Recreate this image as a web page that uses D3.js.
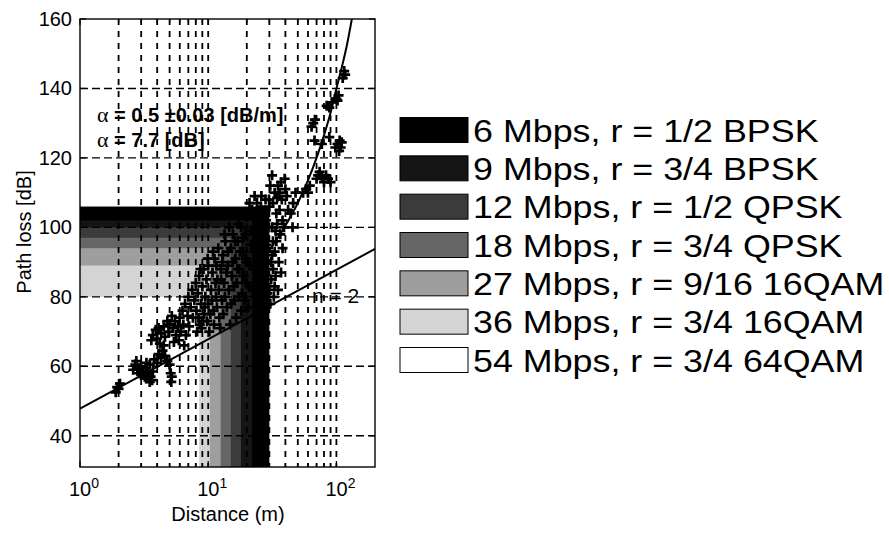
<!DOCTYPE html>
<html>
<head>
<meta charset="utf-8">
<script src="https://cdn.jsdelivr.net/npm/d3@7"></script>
<style>
  body { margin: 0; background: #fff; }
  svg { display: block; }
  text { font-family: "Liberation Sans", Arial, Helvetica, sans-serif; fill: #000; }
</style>
</head>
<body>
<svg width="889" height="538"></svg>
<script>
(function() {

  // --- data ---
  var rateLabels = ['6 Mbps, r = 1/2 BPSK', '9 Mbps, r = 3/4 BPSK', '12 Mbps, r = 1/2 QPSK',
    '18 Mbps, r = 3/4 QPSK', '27 Mbps, r = 9/16 16QAM', '36 Mbps, r = 3/4 16QAM', '54 Mbps, r = 3/4 64QAM'];
  // highest path loss [dB] and longest distance [m] where each rate still works
  var ratePathLoss = [106, 102, 100, 97, 94, 89, 80];
  var rateDistance = [30, 22, 18, 15, 12.5, 10.3, 8.5];

  var yTicks = [40, 60, 80, 100, 120, 140, 160];
  var xMajor = [1, 10, 100];
  var xMinor = [2, 3, 4, 5, 6, 7, 8, 9, 20, 30, 40, 50, 60, 70, 80, 90];

  // measured path loss samples [distance m, loss dB]
  var measured = [
    [1.9, 52.5], [1.95, 54], [2.0, 53.5], [2.05, 55],
    [2.6, 59], [2.7, 60.5], [2.75, 61.5], [2.8, 59.5], [2.9, 58], [3.0, 57.5], [3.0, 60], [3.1, 58.5],
    [3.2, 57], [3.25, 59.5], [3.3, 56.5], [3.4, 58], [3.5, 55.5], [3.55, 57], [3.65, 56], [3.7, 58.5],
    [3.3, 61], [3.5, 60.5],
    [3.8, 62], [4.0, 61], [4.1, 63.5], [4.3, 62.5], [4.4, 64.5], [4.6, 63], [4.8, 61.5], [5.0, 60.5],
    [5.1, 58], [5.15, 55.5], [5.2, 57], [4.5, 66], [4.2, 66.5],
    [3.6, 67.5], [3.7, 69], [3.9, 70.5], [4.0, 68], [4.1, 71], [4.3, 69.5], [4.5, 71.5], [4.6, 68.5],
    [4.8, 73], [4.9, 70], [5.0, 72], [5.2, 74.5], [5.3, 71], [5.5, 73], [5.6, 69], [5.8, 71.5], [5.4, 67], [5.9, 67.5],
    [6.0, 74], [6.1, 70], [6.3, 76], [6.4, 72], [6.6, 78], [6.7, 69], [6.9, 74.5], [7.0, 80], [7.1, 71.5],
    [7.3, 77], [7.5, 82], [7.6, 74], [7.8, 79], [8.0, 84], [8.1, 76], [8.3, 81], [8.5, 86], [8.6, 72],
    [8.8, 78], [9.0, 83], [9.2, 88], [9.3, 75], [9.5, 80], [9.7, 85], [10, 78], [10, 89], [8.2, 70],
    [9.0, 73], [6.5, 66],
    [8.4, 74], [8.9, 71], [9.4, 77], [9.8, 73], [10.2, 70], [10.4, 75], [10.7, 79], [11.1, 72], [11.4, 84],
    [11.7, 77], [12.1, 82], [12.4, 71], [12.6, 85], [8.7, 88], [9.9, 91], [10.9, 93], [11.6, 89],
    [10.5, 82], [10.8, 87], [11, 76], [11.2, 91], [11.5, 80], [11.8, 85], [12, 94], [12.2, 74], [12.5, 88],
    [12.8, 79], [13, 92], [13.3, 84], [13.6, 96], [14, 77], [14.2, 89], [14.5, 82], [15, 94], [15.3, 86],
    [15.6, 98], [16, 79], [16.3, 91], [16.7, 84], [17, 96], [17.5, 88], [18, 100], [18.3, 81], [18.7, 93],
    [19, 86], [19.5, 98], [20, 90], [20, 103],
    [13.1, 75], [13.5, 80], [13.9, 87], [14.3, 93], [14.8, 72], [15.1, 78], [15.5, 90], [15.9, 83],
    [16.2, 96], [16.5, 74], [16.9, 88], [17.3, 80], [17.7, 93], [18.1, 76], [18.5, 86], [18.9, 97],
    [19.3, 79], [19.7, 91], [19.9, 84], [13.4, 98], [14.6, 100], [17.2, 101], [12.9, 90],
    [21, 83], [21.5, 95], [22, 105], [22.5, 88], [23, 100], [23.5, 80], [24, 107], [24.5, 93], [25, 86],
    [25.5, 102], [26, 97], [26.5, 90], [27, 104], [27.5, 84], [28, 108], [28.5, 95], [29, 88], [29.5, 100],
    [30, 82], [30, 106],
    [20.5, 77], [21.2, 89], [21.8, 99], [22.3, 82], [22.8, 93], [23.3, 104], [23.8, 87], [24.3, 97],
    [24.8, 79], [25.3, 91], [25.8, 106], [26.3, 84], [26.8, 99], [27.3, 93], [27.8, 87], [28.3, 102],
    [28.8, 81], [29.3, 94], [29.8, 108], [21, 107], [23, 109], [26, 109],
    [30.5, 78], [31, 90], [31.5, 100], [32, 107], [32.5, 80], [33, 93], [33.5, 86], [34, 96], [34.5, 101],
    [35, 82], [35.5, 90], [36, 105], [36.5, 98], [37, 87], [37.5, 108], [38, 94], [39, 100], [39.5, 114],
    [30.5, 112], [31.5, 115], [33, 110],
    [31, 85], [31.5, 92], [32, 96], [32, 88], [33, 83], [33.5, 99], [34, 104], [34.5, 108.5], [35, 112],
    [36, 110], [37, 113], [38, 102], [40, 111], [41, 109], [42, 105], [44, 104], [45.5, 100], [46, 107], [48, 110],
    [55, 110], [58, 111], [60, 110], [62, 112], [64, 129], [66, 130], [68, 131], [67.5, 125], [70, 114],
    [72, 115], [74, 116], [77, 114.5], [77, 124], [80, 113], [83, 115], [86, 114], [88, 126], [90, 113],
    [84, 135], [88, 134.5], [92, 136], [100, 137], [102, 136.5], [104, 138], [98, 123], [102, 124],
    [106, 125], [108, 123], [110, 124.5], [112, 143], [115, 145], [117, 144], [105, 122]
  ];

  // fitted curve with alpha = 0.5 dB/m, and the n = 2 line
  var fitCurve = [[30, 93.5], [35, 97], [40, 100.5], [50, 107], [60, 113.5], [70, 120], [80, 126.5],
    [90, 133], [100, 140], [110, 146], [120, 152], [132, 160]];
  var freeSpace = [[1, 47.8], [200, 93.8]];

  var svg = d3.select('svg');

  var x = d3.scaleLog().domain([1, 200]).range([80, 375]);
  var y = d3.scaleLinear().domain([31, 160]).range([467, 19]);

  var shade = d3.scaleOrdinal()
    .domain(rateLabels)
    .range(['#000000', '#141414', '#3b3b3b', '#666666', '#9e9e9e', '#d4d4d4', '#ffffff']);

  svg.append('clipPath').attr('id', 'plotclip')
    .append('rect').attr('x', 80).attr('y', 19).attr('width', 295).attr('height', 448);

  var plot = svg.append('g').attr('clip-path', 'url(#plotclip)');

  // rate regions, slowest (largest) first
  plot.selectAll('.region').data(rateLabels)
    .enter().append('rect')
    .attr('class', 'region')
    .attr('x', x(1))
    .attr('y', function(d, i) { return y(ratePathLoss[i]); })
    .attr('width', function(d, i) { return x(rateDistance[i]) - x(1); })
    .attr('height', function(d, i) { return y(31) - y(ratePathLoss[i]); })
    .attr('fill', function(d) { return shade(d); });

  // dashed grid
  plot.selectAll('.vgrid').data(xMinor.concat([10, 100]))
    .enter().append('line')
    .attr('class', 'vgrid')
    .attr('x1', function(d) { return x(d); })
    .attr('x2', function(d) { return x(d); })
    .attr('y1', y(160)).attr('y2', y(31))
    .attr('stroke', '#000').attr('stroke-width', 1.8)
    .attr('stroke-dasharray', '6,6');

  plot.selectAll('.hgrid').data(yTicks.slice(0, -1))
    .enter().append('line')
    .attr('class', 'hgrid')
    .attr('x1', x(1)).attr('x2', x(200))
    .attr('y1', function(d) { return y(d); })
    .attr('y2', function(d) { return y(d); })
    .attr('stroke', '#000').attr('stroke-width', 1.4)
    .attr('stroke-dasharray', '8,4');

  var line = d3.line()
    .x(function(d) { return x(d[0]); })
    .y(function(d) { return y(d[1]); })
    .curve(d3.curveMonotoneX);

  plot.append('path').datum(freeSpace)
    .attr('d', line).attr('fill', 'none').attr('stroke', '#000').attr('stroke-width', 2);
  plot.append('path').datum(fitCurve)
    .attr('d', line).attr('fill', 'none').attr('stroke', '#000').attr('stroke-width', 2);

  // measured samples as '+' markers
  plot.selectAll('.pt').data(measured)
    .enter().append('path')
    .attr('class', 'pt')
    .attr('transform', function(d) { return 'translate(' + x(d[0]) + ',' + y(d[1]) + ')'; })
    .attr('d', 'M-5,0H5M0,-5V5')
    .attr('stroke', '#000').attr('stroke-width', 2.7);

  // box and ticks
  svg.append('rect')
    .attr('x', 80).attr('y', 19).attr('width', 295).attr('height', 448)
    .attr('fill', 'none').attr('stroke', '#000').attr('stroke-width', 1.4);

  var ticks = svg.append('g').attr('stroke', '#000').attr('stroke-width', 1.2);
  xMajor.concat(xMinor).forEach(function(v) {
    var len = xMajor.indexOf(v) >= 0 ? 6 : 4;
    ticks.append('line').attr('x1', x(v)).attr('x2', x(v)).attr('y1', y(31)).attr('y2', y(31) - len);
    ticks.append('line').attr('x1', x(v)).attr('x2', x(v)).attr('y1', y(160)).attr('y2', y(160) + len);
  });
  yTicks.forEach(function(v) {
    ticks.append('line').attr('x1', x(1)).attr('x2', x(1) + 6).attr('y1', y(v)).attr('y2', y(v));
    ticks.append('line').attr('x1', x(200)).attr('x2', x(200) - 6).attr('y1', y(v)).attr('y2', y(v));
  });

  var yAxis = svg.append('g')
    .attr('transform', 'translate(80,0)')
    .call(d3.axisLeft(y).tickValues(yTicks).tickSize(0).tickPadding(8));
  yAxis.select('.domain').remove();
  yAxis.selectAll('text')
    .attr('font-family', '"Liberation Sans", Arial, sans-serif')
    .attr('font-size', 20).attr('fill', '#000');

  // x labels as powers of ten
  var xl = svg.selectAll('.xlab').data(xMajor)
    .enter().append('text')
    .attr('class', 'xlab')
    .attr('x', function(d) { return x(d) + 4; })
    .attr('y', 496)
    .attr('text-anchor', 'middle');
  xl.append('tspan').attr('font-size', 20).text('10');
  xl.append('tspan').attr('font-size', 14).attr('dy', -8)
    .text(function(d) { return String(Math.round(Math.log10(d))); });

  svg.append('text')
    .attr('x', 228).attr('y', 521)
    .attr('text-anchor', 'middle').attr('font-size', 20)
    .text('Distance (m)');

  svg.append('text')
    .attr('transform', 'translate(31,232) rotate(-90)')
    .attr('text-anchor', 'middle').attr('font-size', 20)
    .text('Path loss [dB]');

  // annotations
  var a1 = svg.append('text').attr('x', 97).attr('y', 122).attr('font-size', 20).attr('font-weight', 'bold');
  a1.append('tspan').attr('font-family', '"Liberation Serif", serif').attr('font-weight', 'normal').attr('font-size', 22).text('\u03b1');
  a1.append('tspan').text(' = 0.5 \u00b10.03 [dB/m]');
  var a2 = svg.append('text').attr('x', 97).attr('y', 147).attr('font-size', 20).attr('font-weight', 'bold');
  a2.append('tspan').attr('font-family', '"Liberation Serif", serif').attr('font-weight', 'normal').attr('font-size', 22).text('\u03b1');
  a2.append('tspan').text(' = 7.7 [dB]');

  svg.append('text').attr('x', 312).attr('y', 303).attr('font-size', 21).text('n = 2');

  // legend
  var rowY = d3.scalePoint().domain(rateLabels).range([130, 360]);
  var leg = svg.selectAll('.leg').data(rateLabels)
    .enter().append('g')
    .attr('class', 'leg')
    .attr('transform', function(d) { return 'translate(400,' + rowY(d) + ')'; });
  leg.append('rect')
    .attr('x', 0).attr('y', -12.5).attr('width', 68).attr('height', 25)
    .attr('fill', function(d) { return shade(d); })
    .attr('stroke', '#000').attr('stroke-width', 1);
  leg.append('text')
    .attr('transform', 'translate(73,11.5) scale(1.12,1)')
    .attr('font-size', 32)
    .text(function(d) { return d; });

})();
</script>
</body>
</html>
